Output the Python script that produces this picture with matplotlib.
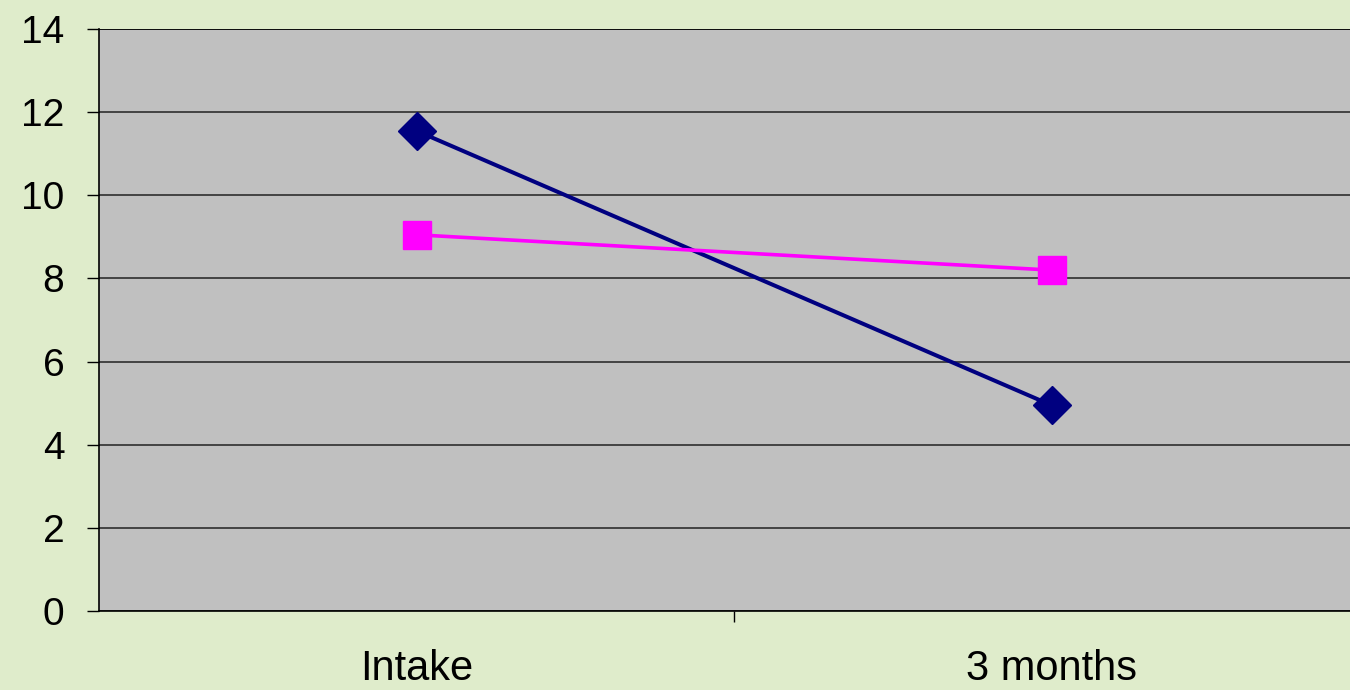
import matplotlib
matplotlib.use("Agg")
import matplotlib.pyplot as plt

# Data
categories = ["Intake", "3 months"]
series_navy = [11.55, 4.95]
series_pink = [9.05, 8.2]
y_ticks = [0, 2, 4, 6, 8, 10, 12, 14]

plt.rcParams["font.family"] = ["Liberation Sans", "DejaVu Sans"]

fig = plt.figure(figsize=(13.5, 6.9), dpi=100)
fig.patch.set_facecolor("#dfeccb")

ax = fig.add_axes([99 / 1350, 79 / 690, 1270 / 1350, 582 / 690])
ax.set_facecolor("#c0c0c0")

x = list(range(len(categories)))
ax.plot(x, series_navy, color="#000080", lw=2.9, marker="D", markersize=19,
        markerfacecolor="#000080", markeredgecolor="#000080", zorder=3, clip_on=False)
ax.plot(x, series_pink, color="#ff00ff", lw=2.6, marker="s", markersize=20,
        markerfacecolor="#ff00ff", markeredgecolor="#ff00ff", zorder=3, clip_on=False)

ax.set_xlim(-0.5, len(categories) - 0.5)
ax.set_ylim(0, 14)

# Y axis
ax.set_yticks(y_ticks)
ax.set_yticklabels([str(v) for v in y_ticks], fontsize=28)
ax.yaxis.grid(True, color="#222222", lw=1.1)
ax.set_axisbelow(True)
ax.tick_params(axis="y", direction="out", length=9, width=1.0, pad=16, colors="black")

# X axis: separator tick between categories, labels centred on categories
ax.set_xticks([i + 0.5 for i in x[:-1]])
ax.set_xticklabels([])
ax.tick_params(axis="x", which="major", direction="out", length=8, width=1.0)
ax.set_xticks(x, minor=True)
ax.set_xticklabels(categories, minor=True, fontsize=30)
ax.tick_params(axis="x", which="minor", length=0, pad=27)

for side in ("top", "right"):
    ax.spines[side].set_visible(False)
ax.axhline(14, color="black", lw=1.1, zorder=2)
ax.spines["left"].set_color("black")
ax.spines["bottom"].set_color("black")
ax.spines["left"].set_linewidth(1.2)
ax.spines["bottom"].set_linewidth(1.2)

fig.savefig("out.png", dpi=100, facecolor=fig.get_facecolor())
